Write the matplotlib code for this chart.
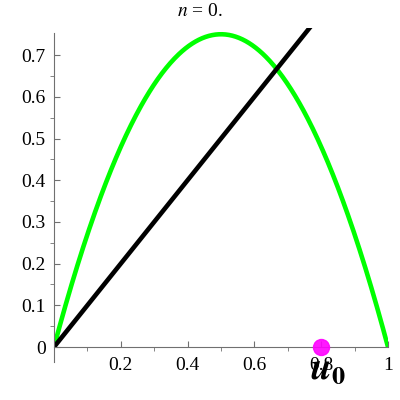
import numpy as np
import matplotlib
matplotlib.use("Agg")
import matplotlib.pyplot as plt

r = 3.0
u0 = 0.8
n = 0
xticks = [0.2, 0.4, 0.6, 0.8, 1]
yticks = [0, 0.1, 0.2, 0.3, 0.4, 0.5, 0.6, 0.7]

plt.rcParams['font.family'] = ['Liberation Serif', 'DejaVu Serif']
plt.rcParams['mathtext.fontset'] = 'stix'

fig = plt.figure(figsize=(4, 4), dpi=100)
ax = fig.add_axes([0.135, 0.1325, 0.835, 0.7975])
x = np.linspace(0, 1, 400)
ax.plot(x, r * x * (1 - x), color='#00ff00', lw=3.3, solid_capstyle='butt')
ax.plot(x, x, color='black', lw=3.3, solid_capstyle='butt')
ax.plot([u0], [0], 'o', color='#ff00ff', ms=11.5, clip_on=False, zorder=5, alpha=0.9)

ax.set_xlim(0, 1)
ax.set_ylim(0, 0.765)
for s in ['top', 'right']:
    ax.spines[s].set_visible(False)
for s in ['left', 'bottom']:
    ax.spines[s].set_color('#707070')
ax.spines['left'].set_bounds(-0.036, 0.753)
ax.set_xticks(xticks)
ax.set_xticks(np.arange(0.1, 1.0, 0.2), minor=True)
ax.set_yticks(yticks)
ax.set_yticks(np.arange(0.05, 0.75, 0.1), minor=True)
ax.set_yticklabels(['0'] + [f'{v:.1f}' for v in yticks[1:]])
ax.set_xticklabels([f'{v:.1f}' if v < 1 else '1' for v in xticks])
ax.tick_params(axis='both', which='major', length=4, color='#707070', labelsize=14)
ax.tick_params(axis='both', which='minor', length=3, color='#707070')
ax.tick_params(axis='x', direction='in', pad=7)
ax.tick_params(axis='y', direction='in', pad=6)

ax.text(u0 + 0.02, -0.055, r'$\boldsymbol{u}_\mathbf{0}$', fontsize=27, ha='center', va='center', zorder=6)
fig.text(0.5, 0.97, r'$n$ = 0.', fontsize=14, ha='center', va='center')

fig.savefig('out.png', dpi=100)
